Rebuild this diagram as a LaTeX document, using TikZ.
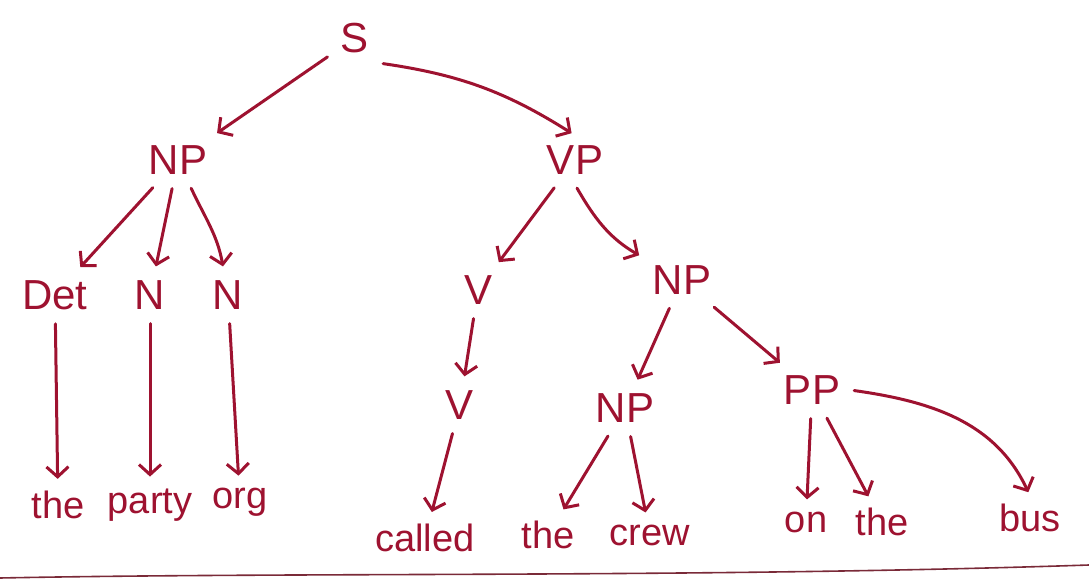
\documentclass[tikz,border=0pt]{standalone}
\usepackage{fontspec}
\setmainfont{Liberation Sans}
\usetikzlibrary{arrows.meta}
\definecolor{ink}{HTML}{9E1230}
\definecolor{rule}{HTML}{7A2A38}
\tikzset{
  x=1pt, y=-1pt,
  lab/.style={text=ink, font=\fontsize{42}{42}\selectfont, inner sep=10pt},
  leaf/.style={text=ink, font=\fontsize{38}{38}\selectfont, inner sep=8pt},
  edge/.style={draw=ink, line width=3pt, line cap=round, line join=round,
    shorten <=4pt, shorten >=4pt,
    -{Straight Barb[length=10pt,width=22pt,line width=3pt]}},
}
\begin{document}
\begin{tikzpicture}
\useasboundingbox (0,0) rectangle (1089,585);
% phrase labels
\node[lab] (s)    at (355,38)  {S};
\node[lab] (np)   at (178,160) {NP};
\node[lab] (vp)   at (575,160) {VP};
\node[lab] (det)  at (55,295)  {Det};
\node[lab] (n1)   at (150,295) {N};
\node[lab] (n2)   at (228,295) {N};
\node[lab] (v1)   at (478,290) {V};
\node[lab] (np2)  at (682,280) {NP};
\node[lab] (v2)   at (460,405) {V};
\node[lab] (np3)  at (625,408) {NP};
\node[lab] (pp)   at (812,390) {PP};
% words
\node[leaf] (w1) at (58,505)  {the};
\node[leaf] (w2) at (150,505) {party};
\node[leaf] (w3) at (240,502) {org};
\node[leaf] (w4) at (425,538) {called};
\node[leaf] (w5) at (548,535) {the};
\node[leaf] (w6) at (650,535) {crew};
\node[leaf] (w7) at (806,522) {on};
\node[leaf] (w8) at (882,522) {the};
\node[leaf] (w9) at (1030,518) {bus};
% branches
\draw[edge] (s) -- (np);
\draw[edge] (s.south east) to[bend left=12] (vp.north);
\draw[edge] (np) -- (det);
\draw[edge] (np) -- (n1);
\draw[edge] (np) to[out=-65,in=100] (n2);
\draw[edge] (vp) -- (v1);
\draw[edge] (vp.south) to[out=-60,in=150] (np2);
\draw[edge] (np2) -- (np3);
\draw[edge] (np2) -- (pp);
\draw[edge] (det) -- (w1);
\draw[edge] (n1) -- (w2);
\draw[edge] (n2) -- (w3);
\draw[edge] (v1) -- (v2);
\draw[edge] (v2) -- (w4);
\draw[edge] (np3) -- (w5);
\draw[edge] (np3) -- (w6);
\draw[edge] (pp) -- (w7);
\draw[edge] (pp) -- (w8);
\draw[edge] (pp.east) to[out=-8,in=115] (w9.north);
% ruled line under the sentence
\coordinate (ra) at (0,578);
\coordinate (rb) at (1089,565);
\draw[rule, line width=1.6pt] (ra) .. controls (300,572) and (700,578) .. (rb);
\end{tikzpicture}
\end{document}
